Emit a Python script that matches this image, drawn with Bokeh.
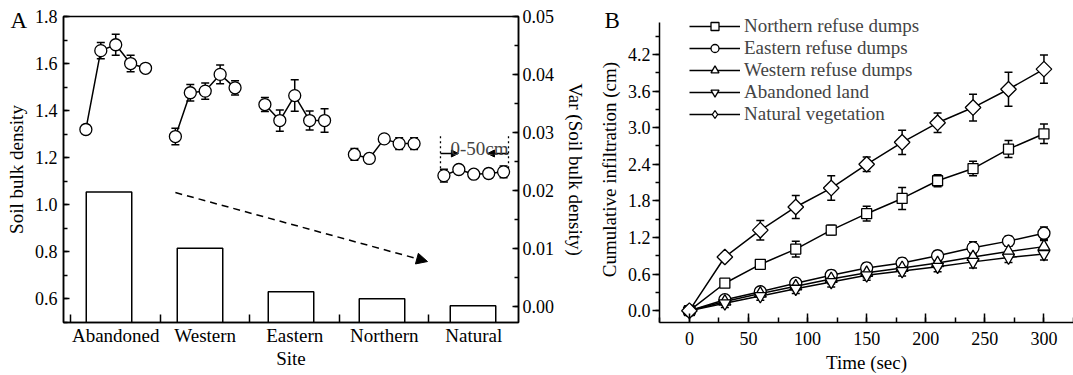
from bokeh.plotting import figure
from bokeh.models import (Range1d, LinearAxis, FixedTicker, SingleIntervalTicker,
                          NumeralTickFormatter, Legend, LegendItem, Label, Arrow, NormalHead)
from bokeh.layouts import row
from bokeh.embed import file_html
from bokeh.resources import INLINE

FONT = "Liberation Serif"

# ---------------- Panel A data ----------------
sites = ["Abandoned", "Western", "Eastern", "Northern", "Natural"]
bd_abandoned = [1.32, 1.655, 1.68, 1.60, 1.58]
bd_abandoned_err = [0.02, 0.035, 0.045, 0.035, 0.01]
bd_western = [1.29, 1.476, 1.483, 1.554, 1.497]
bd_western_err = [0.035, 0.035, 0.035, 0.04, 0.03]
bd_eastern = [1.426, 1.358, 1.464, 1.358, 1.358]
bd_eastern_err = [0.03, 0.045, 0.067, 0.04, 0.05]
bd_northern = [1.214, 1.197, 1.28, 1.26, 1.26]
bd_northern_err = [0.025, 0.015, 0.01, 0.025, 0.025]
bd_natural = [1.124, 1.15, 1.13, 1.133, 1.14]
bd_natural_err = [0.027, 0.01, 0.01, 0.02, 0.025]
var_bd = [0.0197, 0.0100, 0.0025, 0.0013, 0.0001]

# ---------------- Panel B data ----------------
time = [0, 30, 60, 90, 120, 150, 180, 210, 240, 270, 300]
northern = [0, 0.45, 0.76, 1.01, 1.32, 1.59, 1.84, 2.13, 2.33, 2.65, 2.90]
northern_err = [0.03, 0.05, 0.04, 0.13, 0.08, 0.12, 0.18, 0.10, 0.12, 0.14, 0.16]
eastern = [0, 0.18, 0.31, 0.45, 0.58, 0.70, 0.78, 0.90, 1.03, 1.14, 1.27]
eastern_err = [0.02, 0.05, 0.06, 0.07, 0.08, 0.08, 0.08, 0.08, 0.10, 0.08, 0.10]
western = [0, 0.15, 0.28, 0.40, 0.52, 0.62, 0.70, 0.78, 0.88, 0.97, 1.05]
western_err = [0.02, 0.05, 0.06, 0.07, 0.08, 0.08, 0.08, 0.08, 0.08, 0.09, 0.10]
abandoned = [0, 0.12, 0.24, 0.36, 0.47, 0.58, 0.65, 0.72, 0.80, 0.87, 0.93]
abandoned_err = [0.02, 0.07, 0.07, 0.08, 0.08, 0.08, 0.08, 0.08, 0.10, 0.08, 0.10]
natural = [0, 0.88, 1.32, 1.70, 2.01, 2.40, 2.76, 3.08, 3.33, 3.63, 3.96]
natural_err = [0.03, 0.06, 0.16, 0.19, 0.20, 0.12, 0.20, 0.16, 0.22, 0.28, 0.23]
series_labels = ["Northern refuse dumps", "Eastern refuse dumps", "Western refuse dumps",
                 "Abandoned land", "Natural vegetation"]


def style_axis(ax, size="18px"):
    ax.axis_line_width = 1.5
    ax.axis_line_color = "black"
    ax.major_tick_line_width = 1.5
    ax.minor_tick_line_width = 1.5
    ax.major_tick_line_color = "black"
    ax.minor_tick_line_color = "black"
    ax.major_label_text_font = FONT
    ax.major_label_text_font_size = size
    ax.major_label_text_color = "black"
    ax.axis_label_text_font = FONT
    ax.axis_label_text_font_size = "19px"
    ax.axis_label_text_font_style = "normal"
    ax.axis_label_text_color = "black"


def panel_letter(p, text, offset):
    p.title.text = text
    p.title.align = "left"
    p.title.offset = offset
    p.title.standoff = -32
    p.title.text_font = FONT
    p.title.text_font_size = "23px"
    p.title.text_font_style = "normal"
    p.title.text_color = "black"


# ================= Panel A =================
XA0, XA1 = -0.5, 30.0
pA = figure(width=595, height=375, x_range=Range1d(XA0, XA1), y_range=Range1d(0.5, 1.8),
            output_backend="svg", toolbar_location=None,
            min_border_left=63, min_border_right=77, min_border_top=16, min_border_bottom=53)
pA.extra_y_ranges = {"var": Range1d(-0.0028, 0.05)}
pA.grid.visible = False
pA.outline_line_color = "black"
pA.outline_line_width = 1.5
panel_letter(pA, "A", -53)

ya = pA.yaxis[0]
ya.ticker = SingleIntervalTicker(interval=0.2, num_minor_ticks=2)
ya.formatter = NumeralTickFormatter(format="0.0")
ya.axis_label = "Soil bulk density"
ya.major_tick_in, ya.major_tick_out = 6, 0
ya.minor_tick_in, ya.minor_tick_out = 4, 0
ya.major_label_standoff = 6
ya.axis_label_standoff = 5
style_axis(ya)

xa = pA.xaxis[0]
xa.ticker = FixedTicker(ticks=[3 + 6 * i for i in range(5)], minor_ticks=[6 * i for i in range(5)])
xa.major_label_overrides = {3 + 6 * i: s for i, s in enumerate(sites)}
xa.axis_label = "Site"
xa.major_tick_in, xa.major_tick_out = 0, 0
xa.minor_tick_in, xa.minor_tick_out = 8, 0
xa.major_label_standoff = 2
xa.axis_label_standoff = -1
style_axis(xa, "19px")

yr = LinearAxis(y_range_name="var", ticker=SingleIntervalTicker(interval=0.01, num_minor_ticks=2),
                formatter=NumeralTickFormatter(format="0.00"), axis_label="Var (Soil bulk density)")
yr.major_tick_in, yr.major_tick_out = 6, 0
yr.minor_tick_in, yr.minor_tick_out = 4, 0
yr.major_label_standoff = 4
yr.axis_label_standoff = 8
style_axis(yr)
pA.add_layout(yr, "right")

# bars (variance): one equal-width band per site across the frame
band = (XA1 - XA0) / len(sites)
bar_x = [XA0 + (i + 0.5) * band for i in range(len(sites))]
pA.vbar(x=bar_x, top=var_bd, bottom=-0.0028, width=0.5 * band, y_range_name="var",
        fill_color="white", line_color="black", line_width=1.5)

# bulk density points
groups = [bd_abandoned, bd_western, bd_eastern, bd_northern, bd_natural]
gerrs = [bd_abandoned_err, bd_western_err, bd_eastern_err, bd_northern_err, bd_natural_err]
for gi, (vals, errs) in enumerate(zip(groups, gerrs)):
    xs = [6 * gi + j + 1 for j in range(len(vals))]
    lo = [v - e for v, e in zip(vals, errs)]
    hi = [v + e for v, e in zip(vals, errs)]
    pA.segment(x0=xs, y0=lo, x1=xs, y1=hi, line_color="black", line_width=1.5)
    pA.scatter(x=xs + xs, y=lo + hi, marker="dash", size=8, line_color="black", line_width=1.5)
    pA.line(x=xs, y=vals, line_color="black", line_width=1.5)
    pA.scatter(x=xs, y=vals, marker="circle", size=12, fill_color="white",
               line_color="black", line_width=1.3)

# dashed trend arrow
pA.add_layout(Arrow(x_start=7.0, y_start=1.052, x_end=23.9, y_end=0.759,
                    line_dash="7 5", line_width=1.5, line_color="black",
                    end=NormalHead(size=11, fill_color="black", line_color="black")))

# 0-50cm annotation
pA.segment(x0=[24.77, 29.33], y0=[1.155, 1.155], x1=[24.77, 29.33], y1=[1.294, 1.294],
           line_color="black", line_width=1.3, line_dash="2 3")
pA.add_layout(Arrow(x_start=24.77, y_start=1.218, x_end=25.97, y_end=1.218, line_width=1.3,
                    end=NormalHead(size=7, fill_color="black", line_color="black")))
pA.add_layout(Arrow(x_start=29.33, y_start=1.218, x_end=27.92, y_end=1.218, line_width=1.3,
                    end=NormalHead(size=7, fill_color="black", line_color="black")))
pA.add_layout(Label(x=27.38, y=1.239, text="0-50cm", text_align="center",
                    text_baseline="alphabetic", text_font=FONT, text_font_size="19px"))

# ================= Panel B =================
pB = figure(width=478, height=375, x_range=Range1d(-25.3, 325.0), y_range=Range1d(-0.194, 4.823),
            output_backend="svg", toolbar_location=None,
            min_border_left=62, min_border_right=0, min_border_top=13, min_border_bottom=51)
pB.grid.visible = False
pB.outline_line_color = None
panel_letter(pB, "B", -55)

yb = pB.yaxis[0]
yb.ticker = SingleIntervalTicker(interval=0.6, num_minor_ticks=2)
yb.formatter = NumeralTickFormatter(format="0.0")
yb.bounds = (-0.194, 4.726)
yb.axis_label = "Cumulative infiltration (cm)"
yb.major_tick_in, yb.major_tick_out = 0, 7
yb.minor_tick_in, yb.minor_tick_out = 0, 4
yb.major_label_standoff = 2
yb.axis_label_standoff = 5
style_axis(yb)

xb = pB.xaxis[0]
xb.ticker = SingleIntervalTicker(interval=50, num_minor_ticks=2)
xb.axis_label = "Time (sec)"
xb.major_tick_in, xb.major_tick_out = 9, 0
xb.minor_tick_in, xb.minor_tick_out = 5, 0
xb.major_label_standoff = 9
xb.axis_label_standoff = 4
style_axis(xb)

series = [northern, eastern, western, abandoned, natural]
serrs = [northern_err, eastern_err, western_err, abandoned_err, natural_err]
markers = [("square", 10, 0), ("circle", 12, 0), ("triangle", 12, 0),
           ("inverted_triangle", 12, 0), ("square", 11, 0.785398)]

for vals, errs in zip(series, serrs):
    lo = [v - e for v, e in zip(vals, errs)]
    hi = [v + e for v, e in zip(vals, errs)]
    pB.segment(x0=time, y0=lo, x1=time, y1=hi, line_color="black", line_width=1.5)
    pB.scatter(x=time + time, y=lo + hi, marker="dash", size=8, line_color="black", line_width=1.5)

items = []
for vals, lab, (mk, sz, ang) in zip(series, series_labels, markers):
    lr = pB.line(x=time, y=vals, line_color="black", line_width=1.5)
    sr = pB.scatter(x=time, y=vals, marker=mk, size=sz, angle=ang, fill_color="white",
                    line_color="black", line_width=1.3)
    rends = [lr, sr]
    if ang:
        # legend proxy: un-rotated diamond outline for the legend swatch
        proxy = pB.scatter(x=time, y=vals, marker="diamond", size=0, fill_color="white",
                           line_color="black", line_width=1.3)
        rends = [lr, proxy]
    items.append(LegendItem(label=lab, renderers=rends))

legend = Legend(items=items, location=(30, 197), glyph_width=51, glyph_height=20,
                label_height=20, spacing=0, padding=0, margin=0, label_standoff=4,
                border_line_color=None, background_fill_alpha=0,
                label_text_font=FONT, label_text_font_size="19px")
pB.add_layout(legend)

layout = row(pA, pB)
open("out.html", "w").write(file_html(layout, INLINE))
